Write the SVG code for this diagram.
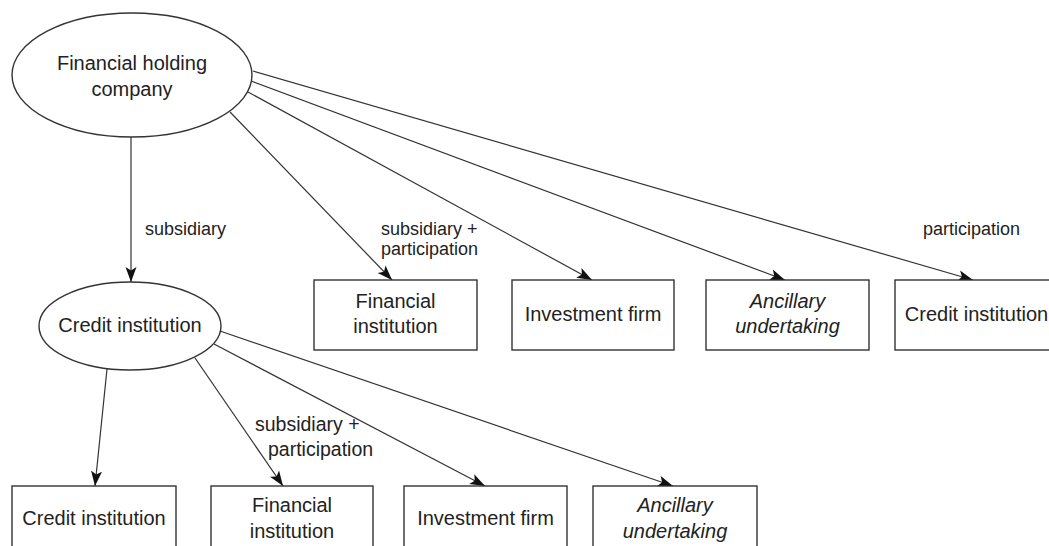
<svg xmlns="http://www.w3.org/2000/svg" width="1049" height="546" viewBox="0 0 1049 546">
<style>
.node{fill:#fff;stroke:#333;stroke-width:1.4}
.t{font-family:"Liberation Sans",Arial,sans-serif;font-size:20px;fill:#222;text-anchor:middle}
.i{font-style:italic}
.lbl{font-family:"Liberation Sans",Arial,sans-serif;font-size:18px;fill:#222}
.lbl2{font-family:"Liberation Sans",Arial,sans-serif;font-size:19.5px;fill:#222}
.c{fill:none;stroke:#333;stroke-width:1.2;marker-end:url(#ah)}
</style>
<defs>
<marker id="ah" markerUnits="userSpaceOnUse" markerWidth="16" markerHeight="12" refX="15" refY="6" orient="auto" viewBox="0 0 16 12">
<path d="M0,0.5 L15,6 L0,11.5 L3.5,6 Z" fill="#111"/>
</marker>
</defs>
<rect width="1049" height="546" fill="#fff"/>
<g id="connectors">
<line class="c" x1="131" y1="137" x2="131" y2="282"/>
<line class="c" x1="230" y1="112" x2="392" y2="280"/>
<line class="c" x1="248" y1="92" x2="592" y2="280"/>
<line class="c" x1="251" y1="81" x2="785" y2="280"/>
<line class="c" x1="253" y1="71" x2="973" y2="280"/>
<line class="c" x1="107" y1="369" x2="95" y2="486"/>
<line class="c" x1="195" y1="358" x2="283" y2="486"/>
<line class="c" x1="214" y1="344" x2="485" y2="486"/>
<line class="c" x1="220" y1="331" x2="673" y2="486"/>
<text class="lbl" x="145" y="235">subsidiary</text>
<text class="lbl" x="381" y="235">subsidiary +</text>
<text class="lbl" x="381" y="255">participation</text>
<text class="lbl" x="923" y="235">participation</text>
<text class="lbl2" x="255" y="431">subsidiary +</text>
<text class="lbl2" x="268" y="456">participation</text>
</g>
<g id="fhc">
<ellipse class="node" cx="132" cy="75" rx="120" ry="62"/>
<text class="t" x="132" y="70">Financial holding</text>
<text class="t" x="132" y="96">company</text>
</g>
<g id="ci-main">
<ellipse class="node" cx="130" cy="326" rx="91" ry="44"/>
<text class="t" x="130" y="332">Credit institution</text>
</g>
<g id="fi-top">
<rect class="node" x="314" y="280" width="163" height="70"/>
<text class="t" x="395.5" y="308">Financial</text>
<text class="t" x="395.5" y="333">institution</text>
</g>
<g id="if-top">
<rect class="node" x="512" y="280" width="162" height="70"/>
<text class="t" x="593" y="321">Investment firm</text>
</g>
<g id="au-top">
<rect class="node" x="706" y="280" width="163" height="70"/>
<text class="t i" x="787.5" y="308">Ancillary</text>
<text class="t i" x="787.5" y="333">undertaking</text>
</g>
<g id="ci-top">
<rect class="node" x="895" y="280" width="163" height="70"/>
<text class="t" x="976.5" y="321">Credit institution</text>
</g>
<g id="ci-bottom">
<rect class="node" x="12" y="486" width="164" height="70"/>
<text class="t" x="94" y="525">Credit institution</text>
</g>
<g id="fi-bottom">
<rect class="node" x="211" y="486" width="162" height="70"/>
<text class="t" x="292" y="512">Financial</text>
<text class="t" x="292" y="538">institution</text>
</g>
<g id="if-bottom">
<rect class="node" x="404" y="486" width="163" height="70"/>
<text class="t" x="485.5" y="525">Investment firm</text>
</g>
<g id="au-bottom">
<rect class="node" x="593" y="486" width="164" height="70"/>
<text class="t i" x="675" y="512">Ancillary</text>
<text class="t i" x="675" y="538">undertaking</text>
</g>
</svg>
